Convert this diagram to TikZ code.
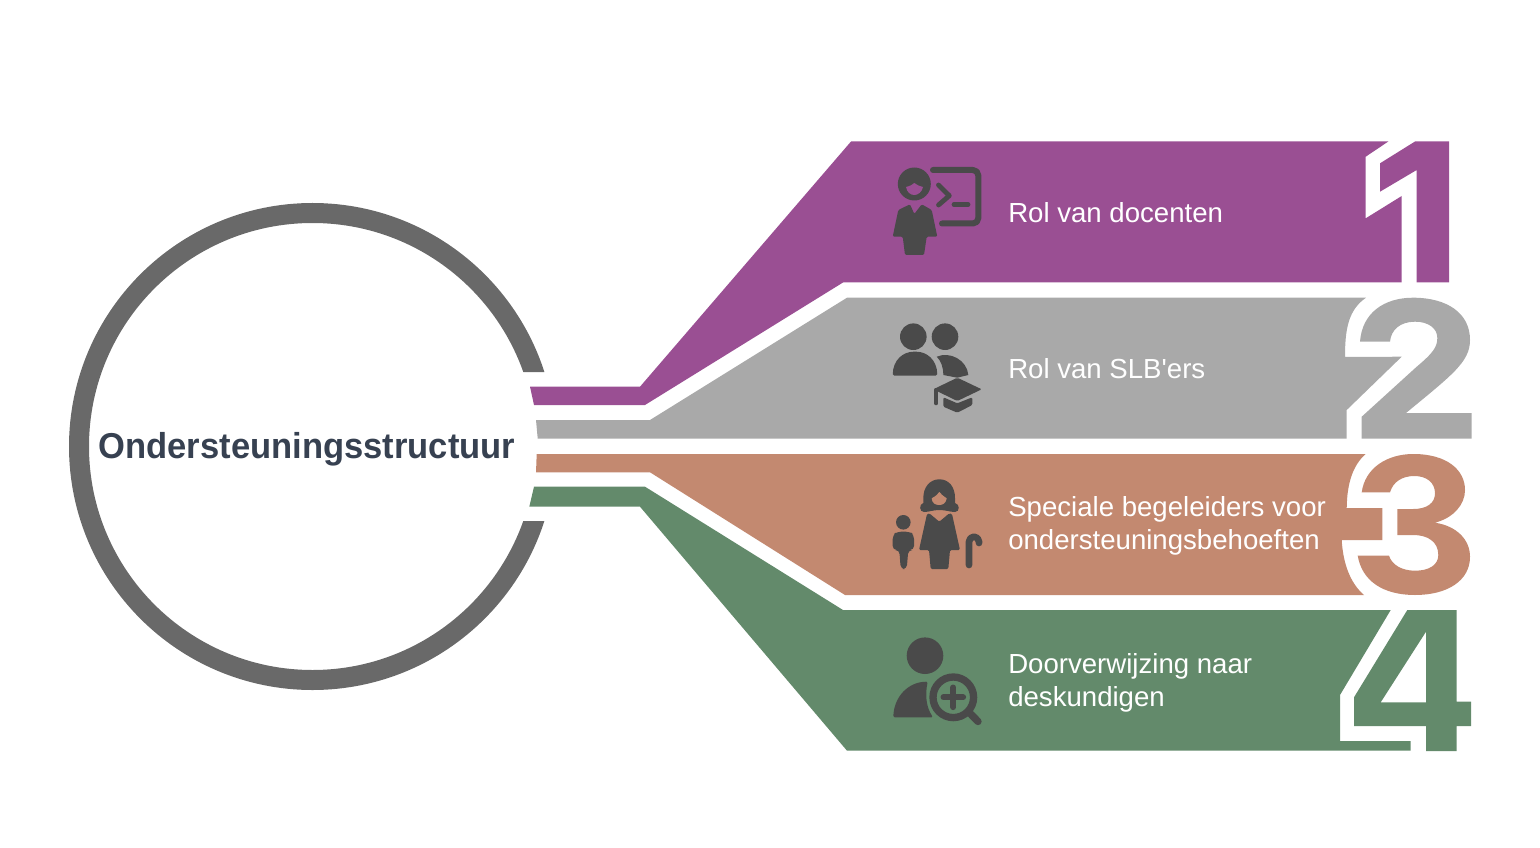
\documentclass[tikz,border=0pt]{standalone}
\usepackage{fontspec}
\setmainfont{Liberation Sans}
\newfontfamily\labelfont{Liberation Sans}
\newfontfamily\titlefont[FakeStretch=0.96]{Liberation Sans}
\usepackage{tikz}
\usetikzlibrary{positioning}

\definecolor{bandpurple}{HTML}{9A4F93}
\definecolor{bandgray}{HTML}{A9A9A9}
\definecolor{bandorange}{HTML}{C38970}
\definecolor{bandgreen}{HTML}{638A6B}
\definecolor{ringgray}{HTML}{696969}
\definecolor{icongray}{HTML}{4A4A4A}
\definecolor{titleblue}{HTML}{374151}

\begin{document}
\begin{tikzpicture}[
    x=0.75pt, y=-0.75pt,
    ring/.style={circle, draw=ringgray, line width=15pt, minimum size=350.25pt, inner sep=0pt},
    title/.style={font=\titlefont\bfseries\fontsize{27}{30}\selectfont, text=titleblue, inner sep=0pt},
    bandtext/.style={anchor=west, align=left, text=white, inner sep=0pt, font=\labelfont\fontsize{20.7}{24.75}\selectfont},
    icon/.style={fill=icongray},
    iconline/.style={draw=icongray, line cap=round, line join=round}
]
\useasboundingbox (0,0) rectangle (1540,848);

% Hub
\begin{scope}
  \clip (0,0) rectangle (1540,372) (0,521) rectangle (1540,848) (0,372) rectangle (500,521);
  \node[ring] (hub) at (312.5,446.5) {};
\end{scope}
\node[title] (hubtitle) at (307,449.5) {Ondersteuningsstructuur};

% Bands
\fill[bandpurple] (530,386.7) -- (640,386.7) -- (851,141.5) -- (1388.3,141.5) -- (1365.7,156.7) -- (1365.7,218.3)
  -- (1401.7,196) -- (1401.7,282.5) -- (843,282.5) -- (645,405) -- (534,405) -- cycle;
\fill[bandgray] (536,420) -- (650,420) -- (847,297.7) -- (1366,297.7) .. controls (1348,310) and (1345,330) .. (1345,357)
  -- (1401.7,356.7) -- (1346.7,410) -- (1346.7,438.5) -- (537.7,438.5) -- cycle;
\fill[bandorange] (536.7,454) -- (1365.7,454) .. controls (1353,465) and (1347,483) .. (1346.7,508) -- (1382.3,508)
  -- (1382.3,540) -- (1341.7,540) .. controls (1343,563) and (1350,583) .. (1364,595) -- (845,595) -- (650,472.3) -- (536,472.3) -- cycle;
\fill[bandgreen] (534,486.7) -- (645,486.7) -- (843,610) -- (1390.7,610) -- (1340,695) -- (1340,741) -- (1410.7,741)
  -- (1410.7,750.7) -- (847,750.7) -- (640,506.7) -- (529.3,506.7) -- cycle;

% Digits
\fill[bandpurple] (1415,141.5) -- (1449,141.5) -- (1449,282.5) -- (1416.7,282.5) -- (1416.7,170) -- (1380,191.7) -- (1380,163.3) -- cycle;
\fill[bandgray] (1360,341.7) .. controls (1362,313) and (1384,297.7) .. (1413,297.7)
  .. controls (1447,297.7) and (1470,313) .. (1470,340) .. controls (1470,362) and (1452,375) .. (1406,413)
  -- (1471.7,413) -- (1471.7,438.5) -- (1361.7,438.5) -- (1361.7,416.7) -- (1416.7,366.7)
  .. controls (1433,353) and (1437.3,347) .. (1437.3,338) .. controls (1437.3,328) and (1428,321.7) .. (1415,321.7)
  .. controls (1400,321.7) and (1391,330) .. (1390,341.7) -- cycle;
\fill[bandorange] (1361.7,492.3) .. controls (1365,468) and (1387,454) .. (1413.3,454)
  .. controls (1447,454) and (1465,470) .. (1465,490) .. controls (1465,505) and (1453,518) .. (1435,522.7)
  .. controls (1457,526) and (1470,540) .. (1470,556.7) .. controls (1470,581) and (1447,595) .. (1415,595)
  .. controls (1383,595) and (1362,581) .. (1357.7,555.7) -- (1389,555.7)
  .. controls (1392,565) and (1402,570.7) .. (1415,570.7) .. controls (1429,570.7) and (1438.3,565) .. (1438.3,555)
  .. controls (1438.3,542) and (1428,535) .. (1413.3,535) -- (1397.3,535) -- (1397.3,509) -- (1413.3,509)
  .. controls (1427,509) and (1435,503) .. (1435,493.3) .. controls (1435,483) and (1427,476) .. (1414.3,476)
  .. controls (1402,476) and (1393,482) .. (1390,492.3) -- cycle;
\fill[bandgreen, even odd rule] (1407.3,610) -- (1456.7,610) -- (1456.7,701.7) -- (1471,701.7) -- (1471,726) -- (1456.7,726)
  -- (1456.7,751) -- (1426,751) -- (1426,726) -- (1354,726) -- (1354,697.3) -- cycle
  (1426,631.7) -- (1426,702.3) -- (1380.7,702.3) -- cycle;

% Icon 1
\fill[icon] (914.3,184) circle (16.5);
\fill[bandpurple] (906,187) .. controls (910,186) and (913,184.5) .. (914.3,183) .. controls (916,184.5) and (919,186) .. (923,187) .. controls (922,192) and (918,195) .. (914.3,195) .. controls (910,195) and (907,192) .. (906,187) -- cycle;
\fill[icon, rounded corners=1] (910,204.3) -- (914.3,214) -- (921.7,204.3) -- (931.7,210) -- (937.3,236.7) -- (926.7,236.7) -- (924,255) -- (905,255) -- (902.7,236.7) -- (892.7,236.7) -- (898.3,210) -- cycle;
\draw[iconline, line width=4.5pt, rounded corners=4] (933,170) -- (978.3,170) -- (978.3,223.5) -- (942,223.5);
\draw[iconline, line width=3.6pt] (938.5,185) -- (949.3,195.7) -- (938.5,205);
\draw[iconline, line width=3.6pt] (954,204.5) -- (968,204.5);

% Icon 2
\fill[icon] (913.3,336.7) circle (13.3);
\fill[icon] (945,336.7) circle (13.3);
\fill[icon, rounded corners=1] (892.7,375.5) .. controls (893,360) and (903,351.7) .. (915,351.7) .. controls (927,351.7) and (937,360) .. (937.3,375.5) -- cycle;
\fill[icon] (936.7,356.7) .. controls (950,351) and (967,360) .. (968.3,375) -- (957.3,377.7) -- (943.3,375) .. controls (943.3,367) and (941,361) .. (936.7,356.7) -- cycle;
\fill[icon, rounded corners=1] (957.3,377.7) -- (981.7,389.3) -- (957.3,401) -- (933.3,389.3) -- cycle;
\draw[iconline, line width=3pt] (936,390) -- (936,403.3);
\fill[icon, rounded corners=1] (943.3,397.3) -- (957.3,403.3) -- (972.3,397.3) -- (972.3,405) -- (957.3,412.7) -- (943.3,406.7) -- cycle;

% Icon 3
\fill[icon] (923.3,498) .. controls (923.3,487) and (930,479.3) .. (939.3,479.3) .. controls (949,479.3) and (955,487) .. (955,498)
  -- (955,503) .. controls (960,504) and (960,512) .. (955,512) .. controls (950,512) and (946,510) .. (939.3,510)
  .. controls (933,510) and (929,512) .. (924,512) .. controls (919,512) and (919,504) .. (923.3,503) -- cycle;
\fill[bandorange] (931.7,498.3) .. controls (936,496) and (938,494) .. (939.3,492) .. controls (941,494) and (943,496) .. (946.7,498.3) .. controls (946,503) and (943,505) .. (939.3,505) .. controls (935,505) and (932,503) .. (931.7,498.3) -- cycle;
\fill[icon, rounded corners=1] (929.3,513.3) -- (939.3,521.7) -- (949.3,513.3) -- (952,514) -- (960,550) -- (950,550) -- (948.3,569) -- (930.7,569) -- (929,550) -- (919,550) -- (927,514) -- cycle;
\fill[icon] (903.3,522.3) circle (7.3);
\fill[icon, rounded corners=3] (892.7,550) -- (892.7,535) -- (897,531.7) -- (910,531.7) -- (914,535) -- (914,550) -- (908.3,550) -- (906.7,569) -- (900.7,569) -- (899.3,550) -- cycle;
\draw[iconline, line width=5pt] (969,565) -- (969,541.7) arc[start angle=180, end angle=360, radius=5] -- (979,543);

% Icon 4
\fill[icon] (925,655.7) circle (18.3);
\fill[icon, rounded corners=1] (893.3,717.3) .. controls (894,697) and (908,681.7) .. (927.7,681.7) .. controls (925,695) and (926,707) .. (933,717.3) -- cycle;
\draw[iconline, line width=5.5pt] (953.3,697.3) circle (20.3);
\draw[iconline, line width=4.5pt] (943.5,697.3) -- (963.1,697.3);
\draw[iconline, line width=4.5pt] (953.3,687.5) -- (953.3,707.1);
\draw[iconline, line width=5.5pt] (970.7,714) -- (978,721.5);

% Labels
\node[bandtext] (docenten) at (1008,212.5) {Rol van docenten};
\node[bandtext] (slb) at (1008,368.5) {Rol van SLB'ers};
\node[bandtext] (begeleiders) at (1008,526) {Speciale begeleiders voor\\ondersteuningsbehoeften};
\node[bandtext] (verwijzing) at (1008,682.5) {Doorverwijzing naar\\deskundigen};

\end{tikzpicture}
\end{document}
